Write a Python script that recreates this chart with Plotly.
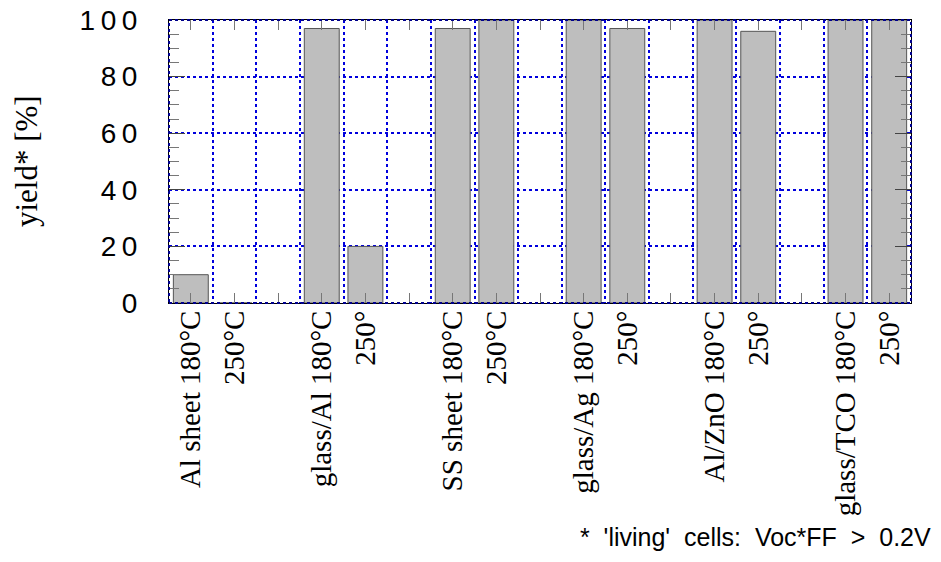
import plotly.graph_objects as go

categories = ["Al sheet 180°C", "250°C", "", "glass/Al 180°C", "250°", "",
              "SS sheet 180°C", "250°C", "", "glass/Ag 180°C", "250°", "",
              "Al/ZnO 180°C", "250°", "", "glass/TCO 180°C", "250°"]
yields = [10, 0, None, 97, 20, None, 97, 100, None, 100, 97, None,
          100, 96, None, 100, 100]
y_ticks = [0, 20, 40, 60, 80, 100]
y_ticktext = ["0", "2\u20090", "4\u20090", "6\u20090", "8\u20090", "1\u20090\u20090"]
footnote = "*\u00a0 'living'\u00a0 cells:\u00a0 Voc*FF\u00a0 >\u00a0 0.2V"

xpos = list(range(len(categories)))
boundaries = [i - 0.5 for i in range(len(categories) + 1)]

fig = go.Figure()
fig.add_trace(go.Bar(
    x=xpos, y=yields, width=0.8,
    marker=dict(color="#bebebe", line=dict(color="#555555", width=1)),
    showlegend=False,
))

# page body has an 8px margin: size/margins compensate so plot lands at 169..911 x 20..303
fig.update_layout(
    width=925, height=546,
    margin=dict(l=161, r=22, t=12, b=251),
    plot_bgcolor="white", paper_bgcolor="white",
    bargap=0.2,
)
fig.update_xaxes(
    range=[-0.5, len(categories) - 0.5],
    tickmode="array", tickvals=xpos, ticktext=categories,
    tickangle=-90, automargin=False,
    tickfont=dict(family="Liberation Serif", size=29, color="black"),
    ticks="inside", ticklen=10, tickcolor="#777777", mirror="ticks",
    showline=True, linecolor="black", linewidth=1,
    showgrid=False, zeroline=False, ticklabeloverflow="allow",
    ticklabelstandoff=-5,
    minor=dict(tickmode="array", tickvals=boundaries, showgrid=True,
               gridcolor="#0000dd", griddash="dot", gridwidth=2, ticks=""),
)
fig.update_yaxes(
    range=[0, 100], automargin=False,
    tickmode="array", tickvals=y_ticks, ticktext=y_ticktext,
    tickfont=dict(family="Liberation Sans", size=28, color="black"),
    ticks="inside", ticklen=16, tickcolor="#444444", mirror="ticks",
    showline=True, linecolor="black", linewidth=1,
    showgrid=True, gridcolor="#0000dd", griddash="dot", gridwidth=2,
    zeroline=False, ticklabeloverflow="allow",
    minor=dict(dtick=5, ticks="inside", ticklen=10, tickcolor="#777777",
               showgrid=False),
    ticklabelstandoff=25,
)

fig.add_shape(type="rect", xref="paper", yref="paper", x0=0, y0=0, x1=1, y1=1,
              line=dict(color="#00008b", width=2, dash="dot"), layer="above")

fig.add_annotation(text="yield* [%]", xref="paper", yref="paper",
                   x=-0.192, y=0.5, showarrow=False, textangle=-90,
                   font=dict(family="Liberation Serif", size=31, color="black"),
                   xanchor="center", yanchor="middle")
fig.add_annotation(text=footnote, xref="paper", yref="paper",
                   x=1.029, y=-0.827, showarrow=False,
                   font=dict(family="Liberation Sans", size=25, color="black"),
                   xanchor="right", yanchor="middle")

fig.write_html("out.html")
